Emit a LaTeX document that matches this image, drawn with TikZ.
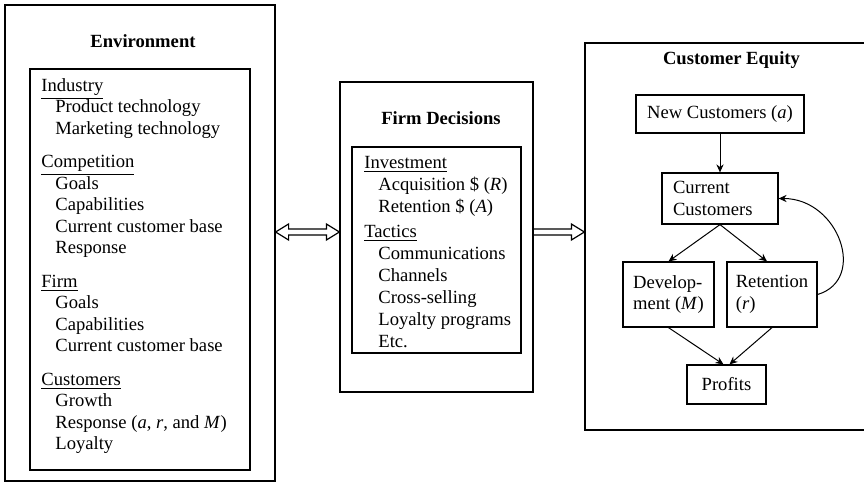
\documentclass[tikz,border=0pt]{standalone}
\usepackage{fontspec}
\setmainfont{Liberation Serif}
\usetikzlibrary{positioning}
\usetikzlibrary{arrows.meta}
\usetikzlibrary{calc}
\tikzset{box/.style = {draw, line width=0.6pt, inner sep=0}}
\tikzset{title/.style = {font=\fontsize{9.3}{10.75}\selectfont\bfseries}}
\tikzset{list/.style = {align=left, anchor=north west, inner sep=0}}
\tikzset{flow/.style = {-{Stealth[length=4pt,width=3.6pt]}, line width=0.5pt}}
\tikzset{hollow/.style = {draw, line width=0.6pt, line join=miter}}
\newcommand{\hd}[1]{\underline{#1}}
\newcommand{\itm}{\hspace*{7pt}}

\begin{document}
\begin{tikzpicture}[x=0.5pt, y=-0.5pt, font=\fontsize{9.3}{10.75}\selectfont]
    \useasboundingbox (0,0) rectangle (864,483);

    % Environment
    \node[box, minimum width=135pt, minimum height=238pt] (env) at (140,243) {};
    \node[title] (envtitle) at (143,41) {Environment};
    \node[box, minimum width=110pt, minimum height=200.5pt] (envbox) at (140,269.5) {};
    \node[list] (envlist) at (41,78) {\hd{Industry}\\
      \itm Product technology\\
      \itm Marketing technology\\[6pt]
      \hd{Competition}\\
      \itm Goals\\
      \itm Capabilities\\
      \itm Current customer base\\
      \itm Response\\[6pt]
      \hd{Firm}\\
      \itm Goals\\
      \itm Capabilities\\
      \itm Current customer base\\[6pt]
      \hd{Customers}\\
      \itm Growth\\
      \itm Response (\textit{a}, \textit{r}, and \textit{M})\\
      \itm Loyalty};

    % Firm decisions
    \node[box, minimum width=96.5pt, minimum height=155pt] (firm) at (436.5,237) {};
    \node[title] (firmtitle) at (441,118) {Firm Decisions};
    \node[box, minimum width=84.5pt, minimum height=103pt] (firmbox) at (436.5,250) {};
    \node[list, font=\fontsize{9.3}{11}\selectfont] (firmlist) at (364,156) {\hd{Investment}\\
      \itm Acquisition \$ (\textit{R})\\
      \itm Retention \$ (\textit{A})\\[1.5pt]
      \hd{Tactics}\\
      \itm Communications\\
      \itm Channels\\
      \itm Cross-selling\\
      \itm Loyalty programs\\
      \itm Etc.};

    % Customer equity
    \node[box, minimum width=150pt, minimum height=193.5pt] (equity) at (735,236.5) {};
    \node[title] (eqtitle) at (731.5,60) {Customer Equity};
    \node[box, minimum width=84pt, minimum height=19pt] (newc) at (720,114) {New Customers (\textit{a})};
    \node[box, minimum height=25.5pt, inner xsep=5.5pt, text width=47pt, align=left] (curc) at (720,198.5) {Current\\Customers};
    \node[box, minimum width=45.5pt, minimum height=32.5pt, align=left] (dev) at (668.5,294.5) {Develop-\\ment (\textit{M})};
    \node[box, minimum width=45pt, minimum height=32.5pt, align=left] (ret) at (772,294.5) {Retention\\(\textit{r})};
    \node[box, minimum width=39.5pt, minimum height=19.5pt] (prof) at (726.5,384.5) {Profits};

    \draw[flow] (newc) -- (curc);
    \draw[flow] (curc.south) -- (dev.north);
    \draw[flow] (curc.south) -- ([xshift=-2.5pt]ret.north);
    \draw[flow] (dev.south) -- ([xshift=-1.5pt]prof.north);
    \draw[flow] (ret.south) -- ([xshift=1.5pt]prof.north);
    \draw[flow] (ret.east) .. controls +(50,-15) and +(60,0) .. (curc.east);

    % Hollow arrows between the boxes
    \coordinate (dl) at (env.east |- 0,232);
    \coordinate (dr) at (firm.west |- 0,232);
    \draw[hollow] (dl) -- ++(13,-8) -- ++(0,5) -- ($(dr)+(-13,-3)$) -- ++(0,-5) -- (dr)
      -- ++(-13,8) -- ++(0,-5) -- ($(dl)+(13,3)$) -- ++(0,5) -- cycle;
    \coordinate (rl) at (firm.east |- 0,232);
    \coordinate (rr) at (equity.west |- 0,232);
    \draw[hollow] (rl) ++(0,-3) -- ($(rr)+(-13,-3)$) -- ++(0,-5) -- (rr)
      -- ++(-13,8) -- ++(0,-5) -- ($(rl)+(0,3)$);
\end{tikzpicture}
\end{document}
